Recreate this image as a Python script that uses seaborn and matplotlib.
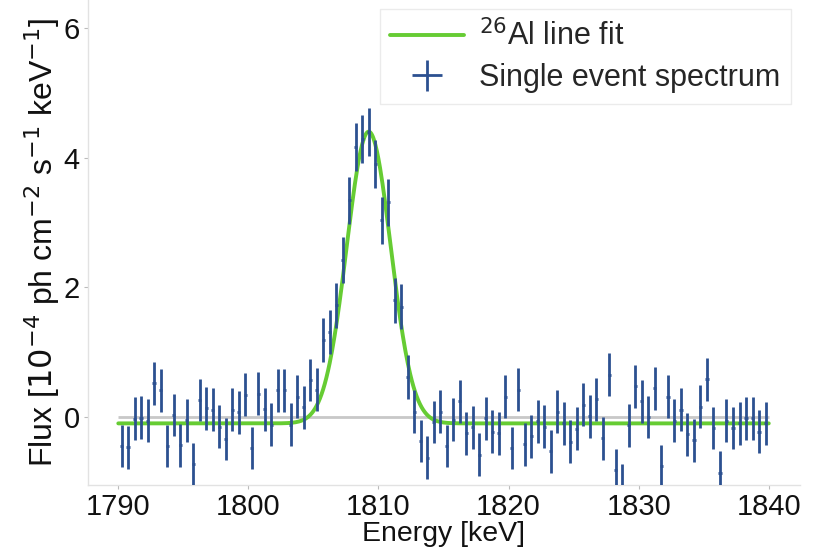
import numpy as np
import pandas as pd
import matplotlib
matplotlib.use("Agg")
import matplotlib.pyplot as plt
import seaborn as sns

# Spectrum bins: 0.5 keV wide, centred from 1790.25 to 1839.75 keV
bin_lo, bin_hi, bin_width = 1790.0, 1840.0, 0.5
energy = np.arange(bin_lo + bin_width / 2, bin_hi, bin_width)

# Single-event flux per bin [1e-4 ph cm^-2 s^-1 keV^-1]
flux = [
    -0.45, -0.47, -0.03, -0.01, -0.06, 0.52, 0.41, -0.45, 0.03, -0.44,
    -0.05, -0.73, 0.26, 0.13, 0.11, -0.15, -0.34, 0.11, 0.07, 0.34,
    -0.48, 0.36, 0.12, -0.12, 0.41, 0.41, -0.12, 0.31, 0.15, 0.57,
    0.42, 1.18, 1.31, 1.72, 2.42, 3.34, 4.16, 4.29, 4.39, 3.90,
    3.03, 3.31, 1.80, 1.70, 0.62, 0.08, -0.37, -0.63, -0.08, 0.08,
    -0.45, -0.04, 0.24, -0.25, -0.16, -0.58, -0.02, -0.23, -0.25, 0.31,
    -0.48, 0.42, -0.42, -0.30, -0.07, -0.15, -0.53, 0.08, -0.10, -0.38,
    -0.18, 0.19, 0.01, 0.27, -0.33, 0.65, -0.82, -1.06, -0.13, 0.47,
    0.24, 0.00, 0.44, -0.76, 0.31, -0.06, 0.11, -0.27, -0.36, 0.16,
    0.58, -0.17, -0.86, -0.06, -0.17, -0.10, -0.02, -0.02, -0.23, -0.10,
]

# 1-sigma statistical uncertainty per bin
flux_err = [
    0.33, 0.33, 0.33, 0.33, 0.33, 0.33, 0.33, 0.33, 0.33, 0.33,
    0.33, 0.33, 0.33, 0.33, 0.33, 0.33, 0.33, 0.33, 0.33, 0.33,
    0.33, 0.33, 0.33, 0.33, 0.33, 0.33, 0.33, 0.33, 0.33, 0.33,
    0.33, 0.34, 0.34, 0.35, 0.35, 0.36, 0.37, 0.37, 0.37, 0.37,
    0.36, 0.36, 0.35, 0.35, 0.34, 0.33, 0.33, 0.33, 0.33, 0.33,
    0.33, 0.33, 0.33, 0.33, 0.33, 0.33, 0.33, 0.33, 0.33, 0.33,
    0.33, 0.33, 0.33, 0.33, 0.33, 0.33, 0.33, 0.33, 0.33, 0.33,
    0.33, 0.33, 0.33, 0.33, 0.33, 0.33, 0.33, 0.33, 0.33, 0.33,
    0.33, 0.33, 0.33, 0.33, 0.33, 0.33, 0.33, 0.33, 0.33, 0.33,
    0.33, 0.33, 0.33, 0.33, 0.33, 0.33, 0.33, 0.33, 0.33, 0.33,
]
energy_err = 0.12

# Gaussian line + constant continuum fit parameters
fit_amplitude = 4.5
fit_centre = 1809.25
fit_sigma = 1.69
fit_continuum = -0.10

x_ticks = [1790, 1800, 1810, 1820, 1830, 1840]
y_ticks = [0, 2, 4, 6]

fit_grid = np.linspace(bin_lo, bin_hi, 801)
fit_df = pd.DataFrame({
    "energy": fit_grid,
    "flux": fit_continuum + fit_amplitude * np.exp(-0.5 * ((fit_grid - fit_centre) / fit_sigma) ** 2),
})

sns.set_theme(style="ticks")
plt.rcParams["font.family"] = ["Liberation Sans", "DejaVu Sans"]
plt.rcParams["mathtext.fontset"] = "dejavusans"

fig = plt.figure(figsize=(8.19, 5.52), dpi=100)
ax = fig.add_axes([0.1074, 0.1214, 0.8694, 0.8786])

ax.hlines(0, bin_lo, bin_hi, color="#c8c8c8", lw=2.0, zorder=1)

sns.lineplot(data=fit_df, x="energy", y="flux", ax=ax, color="#66cc33",
             lw=2.8, label=r"$^{26}$Al line fit", zorder=2)

ax.errorbar(energy, flux, yerr=flux_err, xerr=energy_err, fmt="none",
            ecolor="#2c5090", elinewidth=2.0, capsize=0, zorder=3,
            label="Single event spectrum")

ax.set_xlim(1787.67, 1842.4)
ax.set_ylim(-1.05, 6.43)
ax.set_xticks(x_ticks)
ax.set_yticks(y_ticks)
ax.tick_params(labelsize=21, length=3, width=0.8, color="#bbbbbb",
               labelcolor="#111111", pad=3)

ax.set_xlabel("Energy [keV]", fontsize=20.5, color="#111111", labelpad=0)
ax.set_ylabel(r"Flux [$10^{-4}$ ph cm$^{-2}$ s$^{-1}$ keV$^{-1}$]",
              fontsize=23, color="#111111", labelpad=1)

for side in ("top", "right"):
    ax.spines[side].set_visible(False)
for side in ("left", "bottom"):
    ax.spines[side].set_color("#e2e2e2")
    ax.spines[side].set_linewidth(1.0)

leg = ax.legend(loc="upper right", fontsize=22, frameon=True,
                handlelength=2.4, handletextpad=0.5, borderpad=0.35,
                labelspacing=0.35, borderaxespad=0.3, fancybox=False)
leg.get_frame().set_edgecolor("#e6e6e6")
leg.get_frame().set_linewidth(1.0)

fig.savefig("out.png", dpi=100)
